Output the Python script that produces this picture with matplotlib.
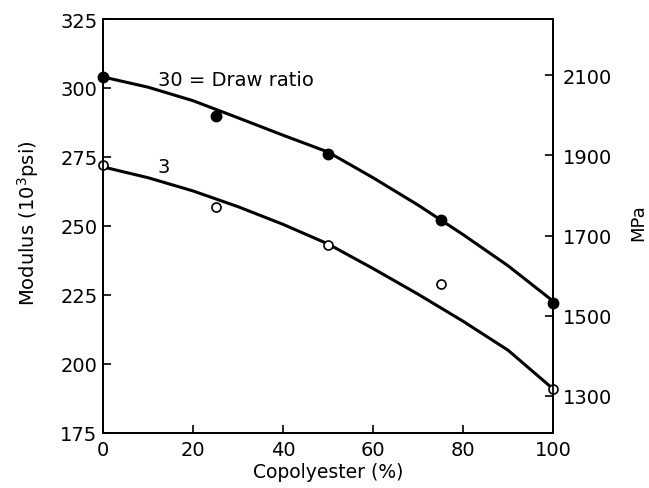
import matplotlib
matplotlib.use("Agg")
import matplotlib.pyplot as plt
import numpy as np

plt.rcParams['font.family'] = ['DejaVu Sans']

# Measured modulus (10^3 psi) versus copolyester content (%)
copolyester = [0, 25, 50, 75, 100]
modulus_dr30 = [304, 290, 276, 252, 222]
modulus_dr3 = [272, 257, 243, 229, 191]

# Smoothed trend curves for each draw ratio
curve_x = [0, 10, 20, 30, 40, 50, 60, 70, 80, 90, 100]
curve_dr30 = [304, 300.3, 295.4, 289.2, 282.9, 276.8, 267.5, 257.6, 246.9, 235.6, 222.8]
curve_dr3 = [271.4, 267.5, 262.7, 257.0, 250.6, 243.5, 234.6, 225.3, 215.5, 205.0, 191.0]

x_ticks = [0, 20, 40, 60, 80, 100]
psi_ticks = [175, 200, 225, 250, 275, 300, 325]
mpa_ticks = [1300, 1500, 1700, 1900, 2100]
KPSI_TO_MPA = 6.895

fig = plt.figure(figsize=(6.49, 4.89), dpi=100)
ax = fig.add_axes([0.1587, 0.1125, 0.6934, 0.8466])

ax.plot(curve_x, curve_dr30, color='black', lw=2.2, solid_capstyle='round', zorder=2)
ax.plot(curve_x, curve_dr3, color='black', lw=2.2, solid_capstyle='round', zorder=2)
ax.plot(copolyester, modulus_dr30, 'o', color='black', ms=7.5, zorder=3, clip_on=False)
ax.plot(copolyester, modulus_dr3, 'o', mfc='white', mec='black', mew=1.2, ms=6.5,
        zorder=3, clip_on=False)

ax.text(12.2, 303, '30 = Draw ratio', fontsize=14, va='center', ha='left')
ax.text(12.2, 271.5, '3', fontsize=14, va='center', ha='left')

ax.set_xlim(0, 100)
ax.set_ylim(175, 325)
ax.set_xticks(x_ticks)
ax.set_yticks(psi_ticks)
ax.tick_params(direction='in', length=6, width=1.2, labelsize=14, pad=4)
ax.tick_params(axis='x', pad=5)
for s in ax.spines.values():
    s.set_linewidth(1.3)

ax.set_xlabel('Copolyester (%)', fontsize=13.5, labelpad=2)
ax.set_ylabel('Modulus (10$^3$psi)', fontsize=14)
ax.yaxis.set_label_coords(-0.137, 0.51)

ax2 = ax.twinx()
ax2.set_ylim(175 * KPSI_TO_MPA, 325 * KPSI_TO_MPA)
ax2.set_yticks(mpa_ticks)
ax2.tick_params(direction='in', length=6, width=1.2, labelsize=14, pad=7)
for s in ax2.spines.values():
    s.set_linewidth(1.3)
ax2.set_ylabel('MPa', fontsize=13)
ax2.yaxis.set_label_coords(1.17, 0.51)

fig.savefig('out.png', dpi=100)
